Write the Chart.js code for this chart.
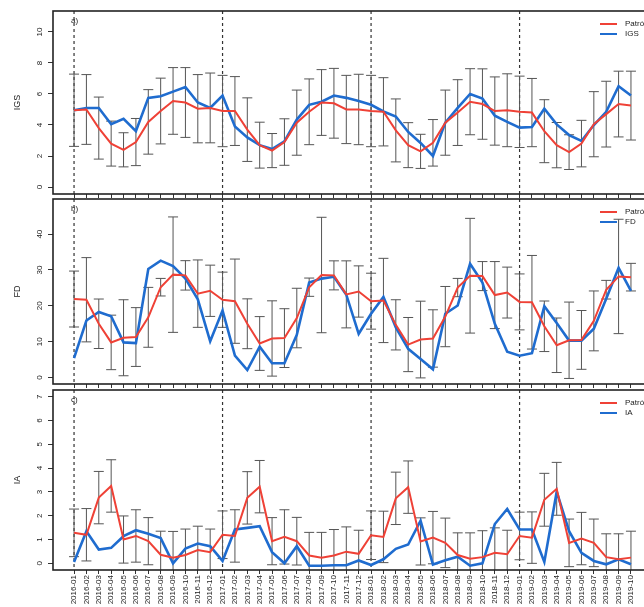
<!DOCTYPE html>
<html>
<head>
<meta charset="utf-8">
<script src="https://cdn.jsdelivr.net/npm/chart.js@4.4.0/dist/chart.umd.min.js"></script>
<style>
  html, body { margin: 0; padding: 0; background: #fff; }
  #wrap { position: relative; width: 644px; height: 607px; overflow: hidden; }
  #wrap canvas { position: absolute; left: 0; }
</style>
</head>
<body>
<div id="wrap">
  <canvas id="chart-igs" width="660" height="199" style="top:0px"></canvas>
  <canvas id="chart-fd" width="660" height="192" style="top:196px"></canvas>
  <canvas id="chart-ia" width="660" height="221" style="top:386px"></canvas>
</div>
<script>
// months on the x axis
const months = [
  "2016-01","2016-02","2016-03","2016-04","2016-05","2016-06","2016-07","2016-08","2016-09","2016-10","2016-11","2016-12",
  "2017-01","2017-02","2017-03","2017-04","2017-05","2017-06","2017-07","2017-08","2017-09","2017-10","2017-11","2017-12",
  "2018-01","2018-02","2018-03","2018-04","2018-05","2018-06","2018-07","2018-08","2018-09","2018-10","2018-11","2018-12",
  "2019-01","2019-02","2019-03","2019-04","2019-05","2019-06","2019-07","2019-08","2019-09","2019-10"
];

// a) IGS
const igsPatron = [4.95,5.0,3.8,2.8,2.4,2.9,4.2,4.9,5.55,5.45,5.05,5.1,
  4.9,4.9,3.7,2.7,2.35,2.9,4.15,4.85,5.45,5.4,5.0,5.0,
  4.9,4.85,3.65,2.7,2.3,2.85,4.15,4.8,5.5,5.35,4.9,4.95,
  4.85,4.8,3.6,2.7,2.25,2.8,4.05,4.7,5.35,5.25];
const igsValues = [4.95,5.1,5.1,4.05,4.4,3.6,5.75,5.85,6.15,6.45,5.45,5.1,
  5.9,3.9,3.2,2.7,2.45,2.95,4.35,5.3,5.5,5.9,5.75,5.55,
  5.3,4.87,4.55,3.55,2.84,2.0,4.15,5.1,6.0,5.7,4.6,4.2,
  3.83,3.87,5.05,4.04,3.35,2.97,4.0,4.85,6.5,5.9];
const igsSd = [2.33,2.25,2.0,1.45,1.1,1.52,2.08,2.12,2.15,2.25,2.2,2.25,
  2.3,2.22,2.05,1.48,1.1,1.5,2.1,2.12,2.12,2.25,2.2,2.27,
  2.3,2.2,2.03,1.45,1.1,1.5,2.1,2.12,2.13,2.27,2.2,2.35,
  2.3,2.2,2.03,1.46,1.12,1.5,2.1,2.12,2.12,2.22];
const igsTicks = [0, 2, 4, 6, 8, 10];

// b) FD
const fdPatron = [21.9,21.7,15,9.8,11.1,11.3,16.8,25.2,28.7,28.5,23.4,24.2,
  21.7,21.3,15,9.5,10.9,11,16.6,25.2,28.6,28.5,23.2,24,
  21.3,21.5,14.7,9.2,10.6,10.9,17,25.1,28.4,28.3,23,23.7,
  21.1,21,14.3,9,10.4,10.5,15.8,24.5,28.2,28];
const fdValues = [5.4,15.9,18.3,17.1,9.8,9.6,30.3,32.6,31.1,27.6,21.8,10.1,
  18.7,6.1,2.1,8.6,4.0,4.0,11.9,26.5,27.6,28.1,23.1,12.2,
  17.8,22.5,14.0,8.0,5.2,2.3,17.8,20.1,31.7,26.5,15,7.2,
  6.1,6.8,19.9,15.2,10.3,10.3,13.6,22,30.6,24.2];
const fdSd = [7.8,11.75,6.9,7.6,10.6,8.2,8.35,2.45,16.1,4.1,9.4,7.15,
  7.7,11.75,6.95,7.5,10.5,8.2,8.3,2.55,16.1,4.05,9.35,7.15,
  7.8,11.75,7,7.55,10.7,8,8.4,2.55,16,4.05,9.35,7.1,
  7.8,13.05,7.05,7.6,10.65,8.2,8.35,2.6,15.95,3.85];
const fdTicks = [0, 10, 20, 30, 40];

// c) IA
const iaPatron = [1.28,1.2,2.76,3.25,1.0,1.15,0.93,0.36,0.24,0.35,0.56,0.47,
  1.2,1.15,2.75,3.22,0.93,1.11,0.93,0.33,0.24,0.33,0.49,0.4,
  1.18,1.11,2.73,3.2,0.92,1.08,0.86,0.35,0.19,0.26,0.44,0.38,
  1.15,1.08,2.67,3.13,0.86,1.04,0.86,0.26,0.17,0.24];
const iaValues = [0.06,1.35,0.58,0.65,1.14,1.39,1.24,1.06,0.0,0.62,0.83,0.72,
  0.1,1.42,1.49,1.56,0.47,0.0,0.72,-0.1,-0.1,-0.08,-0.08,0.12,
  -0.07,0.17,0.61,0.79,1.79,-0.05,0.13,0.28,-0.1,0.0,1.65,2.28,
  1.42,1.42,0.06,3.01,1.35,0.44,0.1,-0.04,0.17,-0.04];
const iaSd = [1.0,1.1,1.1,1.1,0.99,1.1,0.99,0.99,1.1,1.09,1.0,0.97,
  1.0,1.1,1.1,1.1,0.99,1.14,1.0,0.97,1.06,1.09,1.04,0.99,
  1.02,1.08,1.1,1.1,0.99,1.1,1.04,0.93,1.09,1.11,1.05,1.01,
  1.0,1.08,1.11,1.11,1.0,1.1,1.0,0.98,1.07,1.11];
const iaTicks = [0, 1, 2, 3, 4, 5, 6, 7];

const RED = '#ef4136';
const BLUE = '#1f6ccf';
const FONT = '"Liberation Sans", Arial, sans-serif';

// error bars, year lines, box, rotated y labels, panel letter, legend
function makeDeco(sd, letter) {
  return {
    id: 'deco_' + letter,
    beforeDatasetsDraw(chart) {
      const ctx = chart.ctx, a = chart.chartArea;
      const x = chart.scales.x, y = chart.scales.y;
      const base = chart.data.datasets[0].data;
      ctx.save();
      ctx.beginPath();
      ctx.rect(a.left, a.top, a.right - a.left, a.bottom - a.top);
      ctx.clip();
      // dashed line at each January
      ctx.strokeStyle = '#333';
      ctx.lineWidth = 1.2;
      ctx.setLineDash([3, 3]);
      months.forEach((m, i) => {
        if (m.endsWith('-01')) {
          let px = x.getPixelForValue(i);
          ctx.beginPath();
          ctx.moveTo(px, a.top);
          ctx.lineTo(px, a.bottom);
          ctx.stroke();
        }
      });
      ctx.setLineDash([]);
      // error bars around the pattern line
      ctx.strokeStyle = '#555';
      ctx.lineWidth = 1;
      sd.forEach((s, i) => {
        let px = x.getPixelForValue(i);
        let hi = y.getPixelForValue(base[i].y + s);
        let lo = y.getPixelForValue(base[i].y - s);
        ctx.beginPath();
        ctx.moveTo(px, hi); ctx.lineTo(px, lo);
        ctx.moveTo(px - 5, hi); ctx.lineTo(px + 5, hi);
        ctx.moveTo(px - 5, lo); ctx.lineTo(px + 5, lo);
        ctx.stroke();
      });
      ctx.restore();
    },
    afterDraw(chart) {
      const ctx = chart.ctx, a = chart.chartArea;
      const x = chart.scales.x, y = chart.scales.y;
      ctx.save();
      ctx.strokeStyle = '#222';
      ctx.lineWidth = 1.6;
      ctx.strokeRect(a.left, a.top, a.right - a.left, a.bottom - a.top);
      // y tick labels, rotated like R
      ctx.fillStyle = '#222';
      ctx.font = '8px ' + FONT;
      ctx.textAlign = 'center';
      ctx.textBaseline = 'middle';
      y.ticks.forEach(t => {
        ctx.save();
        ctx.translate(a.left - 13, y.getPixelForValue(t.value));
        ctx.rotate(-Math.PI / 2);
        ctx.fillText(String(t.value), 0, 0);
        ctx.restore();
      });
      // panel letter
      ctx.textAlign = 'left';
      ctx.fillText(letter, x.getPixelForValue(0) - 3, a.top + 10);
      // legend (top right)
      chart.data.datasets.forEach((ds, k) => {
        let ly = a.top + 13 + 10 * k;
        ctx.strokeStyle = ds.borderColor;
        ctx.lineWidth = 2;
        ctx.beginPath();
        ctx.moveTo(a.right - 52, ly);
        ctx.lineTo(a.right - 35, ly);
        ctx.stroke();
        ctx.fillStyle = '#222';
        ctx.fillText(ds.label, a.right - 27, ly);
      });
      ctx.restore();
    }
  };
}

function makeChart(canvasId, title, patron, values, sd, yTicks, yMin, yMax, letter, padTop, xHeight, showX) {
  let ctx = document.getElementById(canvasId);
  let config = {
    type: 'line',
    data: {
      datasets: [{
        label: 'Patrón',
        data: patron.map((v, i) => ({x: i, y: v})),
        borderColor: RED,
        borderWidth: 2,
        pointRadius: 0,
        tension: 0
      }, {
        label: title,
        data: values.map((v, i) => ({x: i, y: v})),
        borderColor: BLUE,
        borderWidth: 2.6,
        pointRadius: 0,
        tension: 0
      }]
    },
    options: {
      responsive: false,
      animation: false,
      devicePixelRatio: 1,
      layout: {padding: {top: padTop, right: 8, left: 0, bottom: 0}},
      plugins: {legend: {display: false}, tooltip: {enabled: false}},
      scales: {
        x: {
          type: 'linear',
          min: -1.7,
          max: 46.7,
          afterBuildTicks: s => { s.ticks = months.map((m, i) => ({value: i})); },
          afterFit: s => { s.height = xHeight; },
          grid: {drawOnChartArea: false, drawTicks: true, tickLength: 4, color: '#333'},
          border: {display: false},
          ticks: {
            display: showX,
            autoSkip: false,
            maxRotation: 90,
            minRotation: 90,
            padding: 1,
            color: '#222',
            font: {family: FONT, size: 8},
            callback: v => months[v]
          }
        },
        y: {
          min: yMin,
          max: yMax,
          afterBuildTicks: s => { s.ticks = yTicks.map(v => ({value: v})); },
          afterFit: s => { s.width = 53; },
          grid: {drawOnChartArea: false, drawTicks: true, tickLength: 5, color: '#333'},
          border: {display: false},
          ticks: {display: false},
          title: {display: true, text: title, color: '#222', font: {family: FONT, size: 9}, padding: {top: 12, bottom: 0}}
        }
      }
    },
    plugins: [makeDeco(sd, letter)]
  };
  return new Chart(ctx, config);
}

let chart_igs = makeChart('chart-igs', 'IGS', igsPatron, igsValues, igsSd, igsTicks, -0.45, 11.35, 'a)', 11, 5, false);
let chart_fd = makeChart('chart-fd', 'FD', fdPatron, fdValues, fdSd, fdTicks, -1.8, 49.8, 'b)', 3, 4, false);
let chart_ia = makeChart('chart-ia', 'IA', iaPatron, iaValues, iaSd, iaTicks, -0.28, 7.28, 'c)', 4, 37, true);
</script>
</body>
</html>
